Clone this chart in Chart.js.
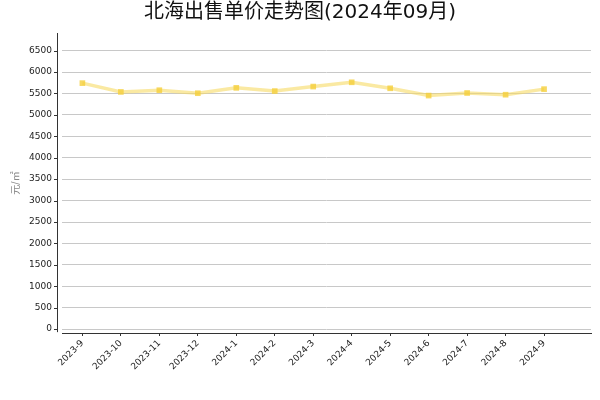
<!DOCTYPE html>
<html>
<head>
<meta charset="utf-8">
<script src="https://cdn.jsdelivr.net/npm/chart.js@4"></script>
<style>
  html, body { margin: 0; padding: 0; background: #fff; }
  #wrap { width: 600px; height: 400px; }
</style>
</head>
<body>
<div id="wrap"><canvas id="c" width="600" height="400"></canvas></div>
<script>
const categories = ["2023-9","2023-10","2023-11","2023-12","2024-1","2024-2","2024-3","2024-4","2024-5","2024-6","2024-7","2024-8","2024-9"];
const prices = [5740, 5535, 5575, 5505, 5630, 5555, 5660, 5760, 5620, 5450, 5510, 5470, 5600];
const yTicks = [0,500,1000,1500,2000,2500,3000,3500,4000,4500,5000,5500,6000,6500];
const titleText = "北海出售单价走势图(2024年09月)";
const yLabel = "元/㎡";

const FONT = "'DejaVu Sans', 'Noto Sans CJK SC', sans-serif";

const axisPlugin = {
  id: 'axisPlugin',
  afterDraw(chart) {
    const ctx = chart.ctx;
    const y = chart.scales.y;
    const area = chart.chartArea;
    const ax = area.left - 5;
    ctx.save();
    ctx.strokeStyle = '#333';
    ctx.lineWidth = 1;
    ctx.beginPath();
    ctx.moveTo(ax + 0.5, area.top);
    ctx.lineTo(ax + 0.5, y.getPixelForValue(0) + 3);
    ctx.stroke();
    yTicks.forEach(v => {
      const py = Math.round(y.getPixelForValue(v)) + 0.5;
      ctx.beginPath();
      ctx.moveTo(ax - 3, py);
      ctx.lineTo(ax, py);
      ctx.stroke();
    });
    // title
    ctx.fillStyle = '#111';
    ctx.font = "20px " + FONT;
    ctx.textAlign = 'center';
    ctx.textBaseline = 'middle';
    ctx.fillText(titleText, chart.width / 2, 13);
    ctx.restore();
  }
};

new Chart(document.getElementById('c'), {
  type: 'line',
  data: {
    datasets: [{
      data: prices.map((v, i) => ({ x: i, y: v })),
      borderColor: 'rgba(247, 218, 100, 0.6)',
      borderWidth: 3.5,
      pointStyle: 'rect',
      pointRadius: 4,
      pointBackgroundColor: 'rgba(245, 208, 60, 0.8)',
      pointBorderWidth: 0,
      tension: 0,
      fill: false
    }]
  },
  options: {
    responsive: false,
    animation: false,
    devicePixelRatio: 1,
    layout: { padding: { left: 0, right: 9, top: 33, bottom: 0 } },
    plugins: {
      legend: { display: false },
      tooltip: { enabled: false },
      title: { display: false }
    },
    scales: {
      x: {
        type: 'linear',
        min: -0.53,
        max: 13.22,
        afterBuildTicks(scale) {
          scale.ticks = categories.map((_, i) => ({ value: i }));
        },
        afterFit(scale) { scale.height = 67; },
        grid: { drawOnChartArea: false, drawTicks: true, tickLength: 3, color: '#333' },
        border: { display: true, color: '#333', width: 1 },
        ticks: {
          autoSkip: false,
          maxRotation: 45,
          minRotation: 45,
          padding: 2,
          color: '#222',
          font: { family: FONT, size: 9 },
          callback: (v) => categories[v] !== undefined ? categories[v] : ''
        }
      },
      y: {
        min: -90,
        max: 6910,
        afterBuildTicks(scale) {
          scale.ticks = yTicks.map(v => ({ value: v }));
        },
        afterFit(scale) { scale.width = 62; },
        grid: { drawTicks: false, color: '#c8c8c8', lineWidth: 1 },
        border: { display: false },
        ticks: {
          padding: 10,
          color: '#222',
          font: { family: FONT, size: 9 },
          callback: (v) => String(v)
        },
        title: {
          display: true,
          text: yLabel,
          color: '#888',
          font: { family: FONT, size: 10 },
          padding: { top: 10, bottom: 0 }
        }
      }
    }
  },
  plugins: [axisPlugin]
});
</script>
</body>
</html>
